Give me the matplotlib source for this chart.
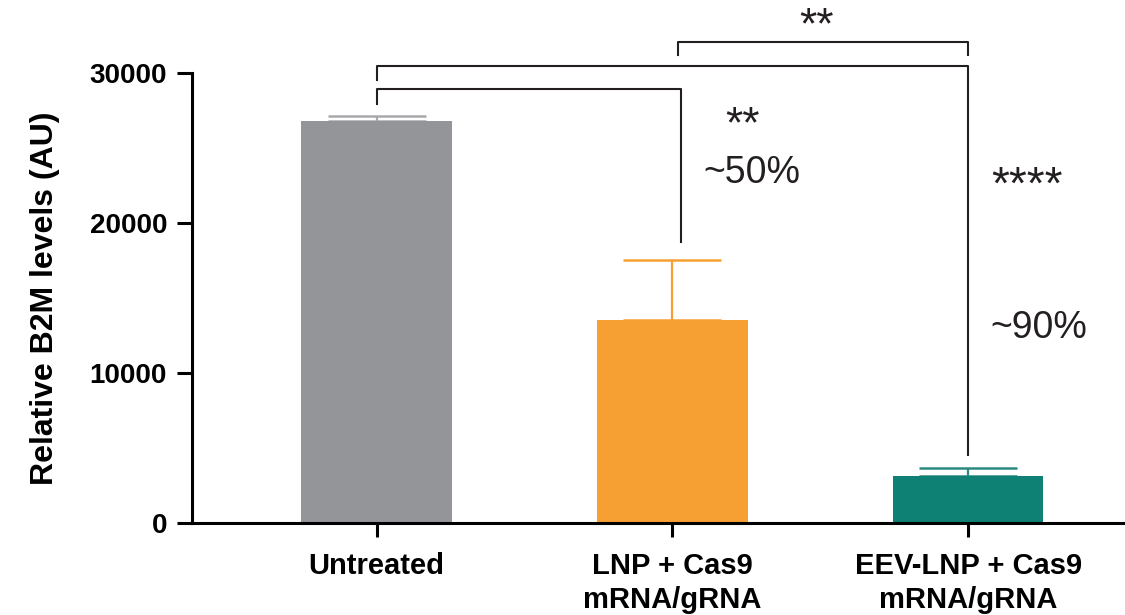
import matplotlib
matplotlib.use('Agg')
import matplotlib.pyplot as plt

plt.rcParams['font.family'] = ['Liberation Sans', 'DejaVu Sans']

groups = ['Untreated', 'LNP + Cas9\nmRNA/gRNA', 'EEV-LNP + Cas9\nmRNA/gRNA']
means = [26800, 13550, 3150]
errs = [330, 3950, 520]
bar_colors = ['#939598', '#F6A033', '#0E8074']
err_colors = ['#A7A9AC', '#F6A033', '#2A8A7F']
yticks = [0, 10000, 20000, 30000]

ink = '#231F20'

fig = plt.figure(figsize=(11.25, 6.15), dpi=100)
ax = fig.add_axes([0.1707, 0.1496, 0.8293, 0.7317])

x = list(range(len(groups)))
ax.bar(x, means, width=0.508, color=bar_colors, zorder=2)
for xi, m, e, c in zip(x, means, errs, err_colors):
    ax.errorbar(xi, m, yerr=[[0], [e]], fmt='none', ecolor=c, elinewidth=1.6,
                capsize=35, capthick=1.8, zorder=1)

ax.set_xlim(-0.624, 2.53)
ax.set_ylim(0, 30000)
ax.set_yticks(yticks)
ax.set_yticklabels([str(t) for t in yticks], fontsize=20, fontweight='bold')
ax.set_xticks(x)
ax.set_xticklabels(groups, fontsize=21, fontweight='bold', linespacing=1.25)
ax.set_ylabel('Relative B2M levels (AU)', fontsize=23, fontweight='bold', labelpad=21)

for s in ['top', 'right']:
    ax.spines[s].set_visible(False)
for s in ['left', 'bottom']:
    ax.spines[s].set_linewidth(2.2)
ax.tick_params(axis='both', width=2.2, colors='black')
ax.tick_params(axis='x', length=10, pad=11)
ax.tick_params(axis='y', length=11, pad=7)


def bracket(x1, x2, y_top, y1, y2):
    ax.plot([x1, x1, x2, x2], [y1, y_top, y_top, y2], color=ink, lw=1.5,
            clip_on=False, zorder=3)


# significance brackets
bracket(0, 2.0, 30470, 29530, 4530)
bracket(0, 1.03, 28930, 27930, 18730)
bracket(1.02, 2.0, 32070, 31200, 31200)

ax.text(1.487, 33050, '**', fontsize=32, ha='center', va='center', color=ink, clip_on=False)
ax.text(1.236, 26500, '**', fontsize=32, ha='center', va='center', color=ink)
ax.text(1.27, 23300, '~50%', fontsize=27, ha='center', va='center', color=ink)
ax.text(2.2, 22400, '****', fontsize=33, ha='center', va='center', color=ink)
ax.text(2.24, 13000, '~90%', fontsize=27, ha='center', va='center', color=ink)

fig.savefig('out.png', dpi=100)
